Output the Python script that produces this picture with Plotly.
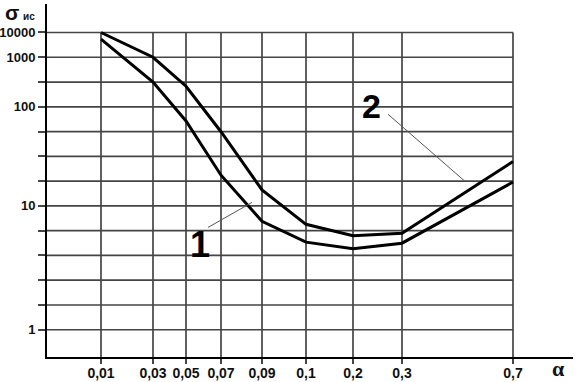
import numpy as np
import plotly.graph_objects as go

# ---------------- data ----------------
alpha = [0.01, 0.03, 0.05, 0.07, 0.09, 0.1, 0.2, 0.3, 0.7]
alpha_labels = ["0,01", "0,03", "0,05", "0,07", "0,09", "0,1", "0,2", "0,3", "0,7"]
sigma_curve1 = [5400, 316, 72, 20.4, 7.5, 5.1, 4.5, 5.0, 17.4]
sigma_curve2 = [10000, 1000, 260, 56, 14.5, 7.1, 5.75, 6.0, 28]
y_tick_values = [1, 10, 100, 1000, 10000]
y_tick_labels = ["1", "10", "100", "1000", "10000"]

# ------------- printed (irregular) scales -------------
x_pos = [54, 106, 139, 174, 215, 259, 306, 355, 466]      # position of each alpha gridline
y_log_anchor = [0, 1, 2, 3, 4]                            # log10 of labelled values
y_grid_anchor = [0, 5, 9, 11, 12]                         # gridline index of labelled values
n_hgrid = 13


def xmap(a):
    return np.interp(a, alpha, x_pos)


def ymap(v):
    return np.interp(np.log10(v), y_log_anchor, y_grid_anchor)


W, H = 581, 382
ML, MR, MT, MB = 47, 8, 4, 25
X_RANGE = [0, W - ML - MR]
Y_RANGE = [-1.1, 13.15]

GRID = "#454545"
INK = "#111111"

fig = go.Figure()
for ys in (sigma_curve1, sigma_curve2):
    fig.add_trace(go.Scatter(
        x=xmap(alpha), y=ymap(np.array(ys, dtype=float)),
        mode="lines", line=dict(color="#000000", width=3),
        hoverinfo="skip", showlegend=False))

shapes = []
for k in range(n_hgrid):
    shapes.append(dict(type="line", xref="x", yref="y", x0=0, x1=x_pos[-1], y0=k, y1=k,
                       line=dict(color=GRID, width=1.7), layer="below"))
for xp in x_pos:
    shapes.append(dict(type="line", xref="x", yref="y", x0=xp, x1=xp, y0=Y_RANGE[0], y1=n_hgrid - 1,
                       line=dict(color=GRID, width=1.7), layer="below"))
# leader lines for curve labels
shapes.append(dict(type="line", xref="x", yref="y", x0=161, y0=4.13, x1=205, y1=5.14,
                   line=dict(color="#555555", width=1)))
shapes.append(dict(type="line", xref="x", yref="y", x0=341, y0=8.7, x1=418, y1=5.99,
                   line=dict(color="#555555", width=1)))

ytick_idx = list(range(n_hgrid))
ytick_txt = [""] * n_hgrid
for v, t in zip(y_tick_values, y_tick_labels):
    ytick_txt[int(round(float(ymap(v))))] = t

pw = W - ML - MR
ph = H - MT - MB


def px(x):
    return (x - ML) / pw


def py(y):
    return (H - MB - y) / ph


annotations = [
    dict(text="<b>σ</b>", x=px(12), y=py(0), xref="paper", yref="paper", showarrow=False,
         font=dict(family="Liberation Sans", size=21, color=INK), xanchor="center", yanchor="top",
         borderpad=0),
    dict(text="<b>ис</b>", x=px(29), y=py(17), xref="paper", yref="paper", showarrow=False,
         font=dict(family="Liberation Sans", size=10, color=INK), xanchor="center", yanchor="middle"),
    dict(text="<b>α</b>", x=px(558), y=py(382), xref="paper", yref="paper", showarrow=False,
         font=dict(family="Liberation Serif", size=22, color=INK), xanchor="center", yanchor="bottom",
         borderpad=0),
    dict(text="<b>1</b>", x=153, y=3.45, xref="x", yref="y", showarrow=False,
         font=dict(family="Liberation Sans", size=36, color="#000000"), xanchor="center", yanchor="middle"),
    dict(text="<b>2</b>", x=324, y=9.05, xref="x", yref="y", showarrow=False,
         font=dict(family="Liberation Sans", size=34, color="#000000"), xanchor="center", yanchor="middle"),
]

xtickfont = dict(family="Liberation Sans", size=14, color=INK, weight="bold")
ytickfont = dict(family="Liberation Sans", size=13, color=INK, weight="bold")

fig.update_layout(
    width=W, height=H,
    margin=dict(l=ML, r=MR, t=MT, b=MB, pad=0, autoexpand=False),
    paper_bgcolor="white", plot_bgcolor="white",
    shapes=shapes, annotations=annotations,
    xaxis=dict(range=X_RANGE, showgrid=False, zeroline=False, automargin=False,
               showline=True, linecolor="#000000", linewidth=2,
               tickmode="array", tickvals=x_pos, ticktext=alpha_labels,
               ticks="outside", ticklen=5, tickwidth=1.5, tickcolor=GRID,
               ticklabelstandoff=-3,
               tickfont=xtickfont, fixedrange=True),
    yaxis=dict(range=Y_RANGE, showgrid=False, zeroline=False, automargin=False,
               showline=True, linecolor="#000000", linewidth=2,
               tickmode="array", tickvals=ytick_idx, ticktext=ytick_txt,
               ticks="outside", ticklen=7, tickwidth=1.7, tickcolor=GRID,
               tickfont=ytickfont, fixedrange=True),
)

fig.write_html("out.html", config={"displayModeBar": False},
               post_script="document.body.style.margin='0';document.body.style.overflow='hidden';")
